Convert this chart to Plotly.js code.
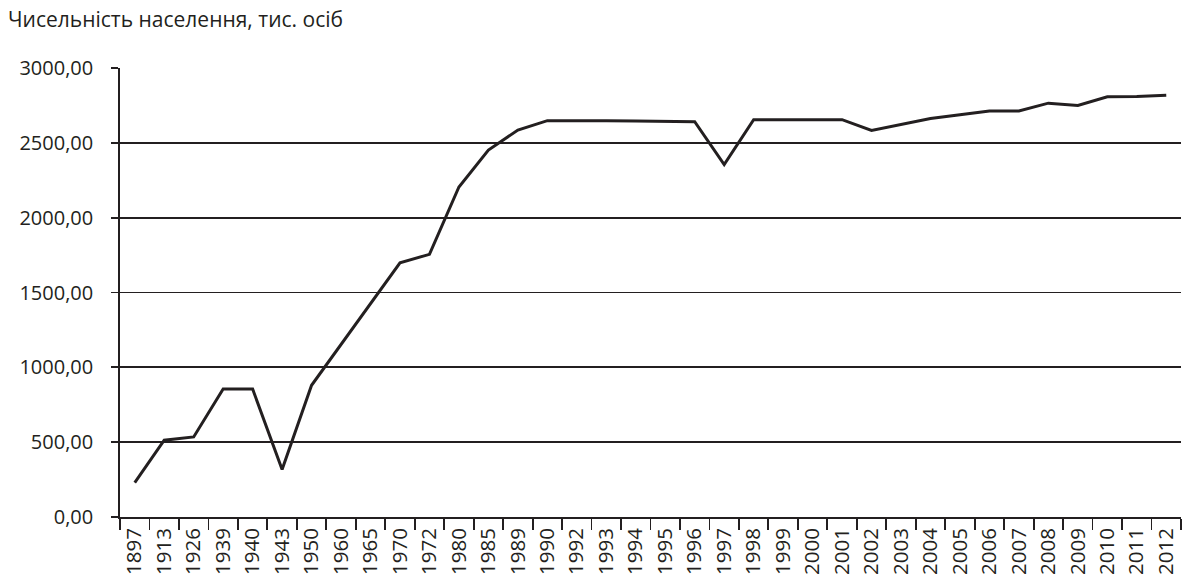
<!DOCTYPE html>
<html>
<head>
<meta charset="utf-8">
<script src="https://cdn.plot.ly/plotly-3.0.1.min.js"></script>
<style>html,body{margin:0;padding:0;background:#fff;}#chart{width:1184px;height:579px;}</style>
</head>
<body>
<div id="chart"></div>
<script>
const years = ['1897','1913','1926','1939','1940','1943','1950','1960','1965','1970','1972','1980','1985','1989','1990','1992','1993','1994','1995','1996','1997','1998','1999','2000','2001','2002','2003','2004','2005','2006','2007','2008','2009','2010','2011','2012'];
const population = [230,513,535,855,855,317,880,1150,1425,1698,1755,2205,2452,2585,2648,2650,2648,2646,2644,2641,2355,2655,2655,2655,2655,2583,2622,2662,2688,2713,2713,2765,2750,2808,2810,2818];
const yTicks = [0,500,1000,1500,2000,2500,3000];
const titleText = 'Чисельність населення, тис. осіб';

const ink = '#231f20';
const fontFam = '"Open Sans", "Noto Sans", sans-serif';

const trace = {
  type: 'scatter',
  mode: 'lines',
  x: years,
  y: population,
  line: {color: ink, width: 3},
  hoverinfo: 'x+y'
};

const layout = {
  width: 1184,
  height: 579,
  margin: {l: 120, r: 3, t: 68, b: 62},
  paper_bgcolor: '#fff',
  plot_bgcolor: '#fff',
  showlegend: false,
  font: {family: fontFam, color: ink},
  title: {
    text: titleText,
    x: 8 / 1184, xanchor: 'left', xref: 'container',
    y: 1 - 12 / 579, yanchor: 'top', yref: 'container',
    font: {size: 21, family: fontFam, color: ink}
  },
  xaxis: {
    type: 'category',
    range: [-0.5, years.length - 0.5],
    tickson: 'boundaries',
    ticks: 'outside',
    ticklen: 11,
    tickwidth: 1.8,
    tickcolor: ink,
    tickangle: -90,
    tickfont: {size: 20.5, family: fontFam, color: ink},
    ticklabelstandoff: 1,
    showline: true,
    linecolor: ink,
    linewidth: 1.8,
    showgrid: false,
    zeroline: false,
    fixedrange: true
  },
  yaxis: {
    range: [0, 3000],
    tickvals: yTicks,
    tickformat: '.2f',
    ticks: 'outside',
    ticklen: 7,
    tickwidth: 1.8,
    tickcolor: ink,
    tickfont: {size: 20, family: fontFam, color: ink},
    ticklabelstandoff: 14,
    showline: true,
    linecolor: ink,
    linewidth: 1.8,
    showgrid: true,
    gridcolor: ink,
    gridwidth: 1.8,
    zeroline: false,
    fixedrange: true
  },
  separators: ', '
};

Plotly.newPlot('chart', [trace], layout, {displayModeBar: false, staticPlot: true});
</script>
</body>
</html>
